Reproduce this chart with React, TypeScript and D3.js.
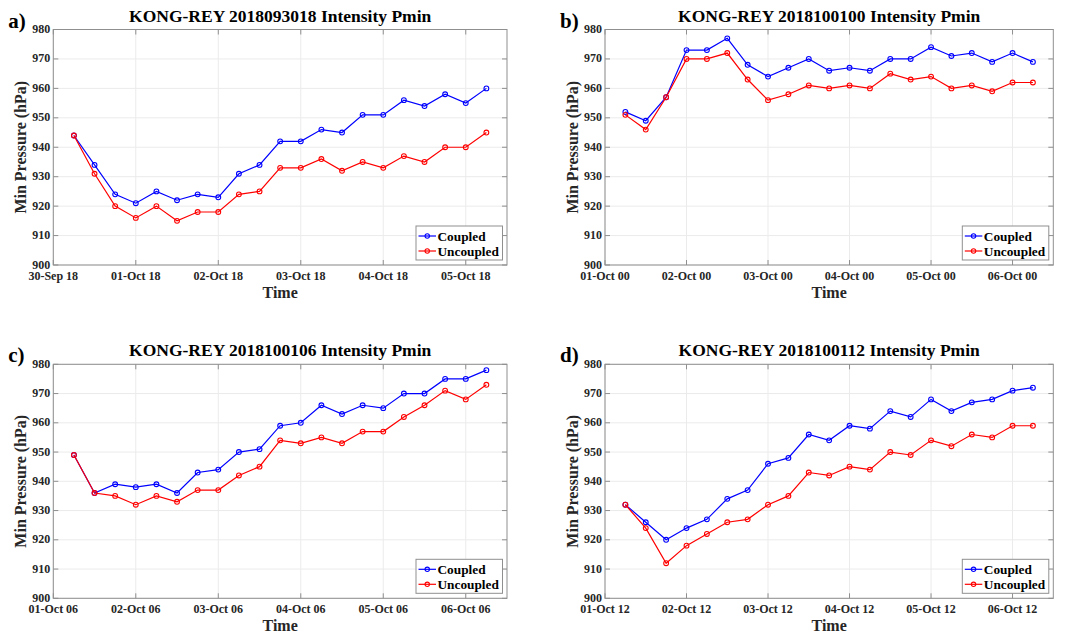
import React from "react";
import * as d3 from "d3";

// ---------- data ----------
const seriesNames = ["Coupled", "Uncoupled"];
const seriesColors = ["#0000ff", "#ff0000"];
const yTicks = [900, 910, 920, 930, 940, 950, 960, 970, 980];

const titles = [
  "KONG-REY 2018093018 Intensity Pmin",
  "KONG-REY 2018100100 Intensity Pmin",
  "KONG-REY 2018100106 Intensity Pmin",
  "KONG-REY 2018100112 Intensity Pmin",
];
const panelLabels = ["a)", "b)", "c)", "d)"];
// forecast initial times (axis starts here)
const initTimes = [
  "2018-09-30T18:00:00Z",
  "2018-10-01T00:00:00Z",
  "2018-10-01T06:00:00Z",
  "2018-10-01T12:00:00Z",
];

const coupledA = [944, 934, 924, 921, 925, 922, 924, 923, 931, 934, 942, 942, 946, 945, 951, 951, 956, 954, 958, 955, 960];
const uncoupledA = [944, 931, 920, 916, 920, 915, 918, 918, 924, 925, 933, 933, 936, 932, 935, 933, 937, 935, 940, 940, 945];
const coupledB = [952, 949, 957, 973, 973, 977, 968, 964, 967, 970, 966, 967, 966, 970, 970, 974, 971, 972, 969, 972, 969];
const uncoupledB = [951, 946, 957, 970, 970, 972, 963, 956, 958, 961, 960, 961, 960, 965, 963, 964, 960, 961, 959, 962, 962];
const coupledC = [949, 936, 939, 938, 939, 936, 943, 944, 950, 951, 959, 960, 966, 963, 966, 965, 970, 970, 975, 975, 978];
const uncoupledC = [949, 936, 935, 932, 935, 933, 937, 937, 942, 945, 954, 953, 955, 953, 957, 957, 962, 966, 971, 968, 973];
const coupledD = [932, 926, 920, 924, 927, 934, 937, 946, 948, 956, 954, 959, 958, 964, 962, 968, 964, 967, 968, 971, 972];
const uncoupledD = [932, 924, 912, 918, 922, 926, 927, 932, 935, 943, 942, 945, 944, 950, 949, 954, 952, 956, 955, 959, 959];

const panelSeries = [
  [coupledA, uncoupledA],
  [coupledB, uncoupledB],
  [coupledC, uncoupledC],
  [coupledD, uncoupledD],
];

// ---------- layout ----------
const FONT = "'Liberation Serif', 'Times New Roman', serif";
const HOUR = 3600 * 1000;
const fmt = d3.utcFormat("%d-%b %H");

const boxes = [
  { l: 53.3, t: 29.5, r: 507, b: 265 },
  { l: 605, t: 29.5, r: 1053.3, b: 265 },
  { l: 53.3, t: 364.3, r: 507, b: 598.3 },
  { l: 605, t: 364.3, r: 1053.3, b: 598.3 },
];

function Panel({ idx }: { idx: number }) {
  const bx = boxes[idx];
  const t0 = new Date(initTimes[idx]);
  const t1 = new Date(t0.getTime() + 132 * HOUR);
  const x = d3.scaleUtc().domain([t0, t1]).range([bx.l, bx.r]);
  const y = d3.scaleLinear().domain([900, 980]).range([bx.b, bx.t]);
  const xTicks = d3.range(0, 6).map((d) => new Date(t0.getTime() + d * 24 * HOUR));
  const series = panelSeries[idx];
  const times = series[0].map((_, i) => new Date(t0.getTime() + (i + 1) * 6 * HOUR));
  const line = d3
    .line<number>()
    .x((_, i) => x(times[i]))
    .y((d) => y(d));
  const axisCol = "#8f8f8f";
  const gridCol = "#ebebeb";
  const txtCol = "#262626";
  const tk = 5;
  const legW = 86.5;
  const legH = 34;
  const legX = bx.r - 4.5 - legW;
  const legY = bx.b - 5 - legH;
  const cx = (bx.l + bx.r) / 2;
  const cy = (bx.t + bx.b) / 2;
  return (
    <g>
      {/* grid */}
      {xTicks.map((d, i) => (
        <line key={"gx" + i} x1={x(d)} x2={x(d)} y1={bx.t} y2={bx.b} stroke={gridCol} strokeWidth={1} />
      ))}
      {yTicks.map((v) => (
        <line key={"gy" + v} x1={bx.l} x2={bx.r} y1={y(v)} y2={y(v)} stroke={gridCol} strokeWidth={1} />
      ))}
      {/* ticks */}
      {xTicks.map((d, i) => (
        <g key={"tx" + i}>
          <line x1={x(d)} x2={x(d)} y1={bx.b} y2={bx.b - tk} stroke={axisCol} />
          <line x1={x(d)} x2={x(d)} y1={bx.t} y2={bx.t + tk} stroke={axisCol} />
          <text x={x(d)} y={bx.b + 14.5} textAnchor="middle" fontSize={12} fontWeight="bold" fill={txtCol} fontFamily={FONT}>
            {fmt(d)}
          </text>
        </g>
      ))}
      {yTicks.map((v) => (
        <g key={"ty" + v}>
          <line x1={bx.l} x2={bx.l + tk} y1={y(v)} y2={y(v)} stroke={axisCol} />
          <line x1={bx.r} x2={bx.r - tk} y1={y(v)} y2={y(v)} stroke={axisCol} />
          <text x={bx.l - 3} y={y(v) + 3.5} textAnchor="end" fontSize={12} fontWeight="bold" fill={txtCol} fontFamily={FONT}>
            {v}
          </text>
        </g>
      ))}
      <rect x={bx.l} y={bx.t} width={bx.r - bx.l} height={bx.b - bx.t} fill="none" stroke={axisCol} strokeWidth={1} />
      {/* series */}
      {series.map((s, si) => (
        <g key={"s" + si}>
          <path d={line(s) || ""} fill="none" stroke={seriesColors[si]} strokeWidth={1.2} />
          {s.map((v, i) => (
            <circle key={i} cx={x(times[i])} cy={y(v)} r={2.4} fill="none" stroke={seriesColors[si]} strokeWidth={1.1} />
          ))}
        </g>
      ))}
      {/* legend */}
      <rect x={legX} y={legY} width={legW} height={legH} fill="#fff" stroke={axisCol} strokeWidth={1} />
      {seriesNames.map((n, si) => {
        const ly = legY + 10 + si * 15;
        return (
          <g key={"lg" + si}>
            <line x1={legX + 2.5} x2={legX + 20} y1={ly} y2={ly} stroke={seriesColors[si]} strokeWidth={1.2} />
            <circle cx={legX + 11.25} cy={ly} r={2.2} fill="none" stroke={seriesColors[si]} strokeWidth={1.1} />
            <text x={legX + 21.5} y={ly + 4.8} fontSize={13.3} fontWeight="bold" fill="#000" fontFamily={FONT}>
              {n}
            </text>
          </g>
        );
      })}
      {/* labels */}
      <text x={cx} y={bx.t - 8} textAnchor="middle" fontSize={17.5} fontWeight="bold" fill="#000" fontFamily={FONT}>
        {titles[idx]}
      </text>
      <text x={bx.l - 45} y={bx.t - 2} fontSize={21} fontWeight="bold" fill="#000" fontFamily={FONT}>
        {panelLabels[idx]}
      </text>
      <text x={cx} y={bx.b + 33} textAnchor="middle" fontSize={16} fontWeight="bold" fill={txtCol} fontFamily={FONT}>
        Time
      </text>
      <text
        transform={`translate(${bx.l - 27},${cy}) rotate(-90)`}
        textAnchor="middle"
        fontSize={16}
        fontWeight="bold"
        fill={txtCol}
        fontFamily={FONT}
      >
        Min Pressure (hPa)
      </text>
    </g>
  );
}

export default function App() {
  return (
    <svg
      width={1087}
      height={637}
      style={{ position: "absolute", left: 0, top: 0, background: "#fff" }}
    >
      <rect x={0} y={0} width={1087} height={637} fill="#fff" />
      {[0, 1, 2, 3].map((i) => (
        <Panel key={i} idx={i} />
      ))}
    </svg>
  );
}
